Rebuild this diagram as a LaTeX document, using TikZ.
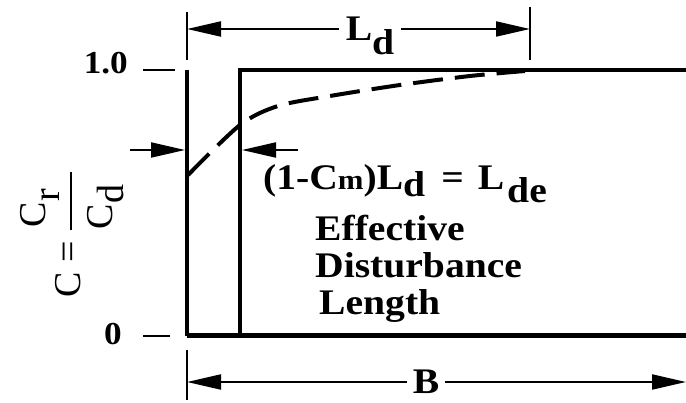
\documentclass[tikz,border=0pt]{standalone}
\usepackage{fontspec}
\setmainfont{Liberation Serif}[FakeStretch=1.1]
\newfontfamily\axisfont{Liberation Serif}
\usepackage{amsmath}
\usetikzlibrary{arrows.meta}

\begin{document}
\begin{tikzpicture}[x=1pt, y=-1pt,
  frame/.style={line width=4pt},
  dimline/.style={line width=2pt},
  dimtick/.style={line width=1.5pt},
  dimtip/.tip={Triangle[length=34pt, width=15pt]},
  lbl/.style={font=\fontsize{36}{40}\selectfont\bfseries, inner sep=0pt},
  numlbl/.style={font=\fontsize{32}{36}\selectfont\bfseries, inner sep=0pt}]
  \useasboundingbox (0,0) rectangle (686,403);

  % strip and curve
  \coordinate (o) at (187,336);
  \coordinate (a) at (187,70);
  \coordinate (b) at (240,70);
  \coordinate (c) at (240,336);
  \coordinate (ends) at (686,70);
  \coordinate (endb) at (686,336);
  \draw[frame] (a) -- (o);
  \draw[frame] (c) -- (b) -- (ends);
  \draw[line width=5pt] (o) -- (endb);
  \draw[line width=4pt, dash pattern=on 30pt off 12pt]
    plot[smooth] coordinates {(188,175) (240,125) (278,106) (330,96) (400,85) (470,76) (525,71)};

  % axis
  \node[numlbl, anchor=base east] (one) at (128,74) {1.0};
  \node[numlbl, anchor=base east] (zero) at (122,345) {0};
  \draw[dimline] (143,70) -- (175,70);
  \draw[dimline] (143,336) -- (170,336);
  \node[rotate=90, anchor=base, inner sep=0pt, font=\axisfont\fontsize{38}{40}\selectfont] (clbl) at (80,234)
    {C = \raisebox{3pt}{$\genfrac{}{}{2pt}{0}
      {\makebox[58pt][l]{\hspace{3pt}C\raisebox{-14pt}[0pt][0pt]{r}\rule[-18pt]{0pt}{0pt}}}
      {\makebox[58pt][l]{\hspace{1pt}C\raisebox{-11pt}[0pt][0pt]{d}\rule{0pt}{35pt}}}$}};

  % Ld
  \draw[dimtick] (187,12) -- (187,60);
  \draw[dimtick] (530,7) -- (530,60);
  \coordinate (ldL) at (187,29);
  \coordinate (ldR) at (530,29);
  \node[lbl, inner xsep=7pt] (ld) at (370,29) {L\raisebox{-14pt}[0pt][0pt]{d}};
  \draw[dimline, -dimtip] (ld) -- (ldL);
  \draw[dimline, -dimtip] (ld) -- (ldR);

  % effective length
  \coordinate (effa) at (130,150);
  \coordinate (effb) at (185,150);
  \coordinate (effc) at (242,150);
  \coordinate (effd) at (298,150);
  \draw[dimline, -dimtip] (effa) -- (effb);
  \draw[dimline, -dimtip] (effd) -- (effc);
  \node[lbl, anchor=base west] (lde) at (263,190)
    {(1-C{\fontsize{28}{28}\selectfont m})L\raisebox{-7pt}{d}\hspace{16pt}=\hspace{14pt}L\hspace{3pt}\raisebox{-13pt}{de}};
  \node[lbl, anchor=base west] (eff1) at (315,241) {Effective};
  \node[lbl, anchor=base west] (eff2) at (315,278) {Disturbance};
  \node[lbl, anchor=base west] (eff3) at (319,315) {Length};

  % B
  \draw[dimtick] (187,350) -- (187,400);
  \coordinate (bL) at (187,382);
  \coordinate (bR) at (686,382);
  \node[lbl, inner xsep=6pt] (bw) at (426,382) {B};
  \draw[dimline, -dimtip] (bw) -- (bL);
  \draw[dimline, -dimtip] (bw) -- (bR);
\end{tikzpicture}
\end{document}
